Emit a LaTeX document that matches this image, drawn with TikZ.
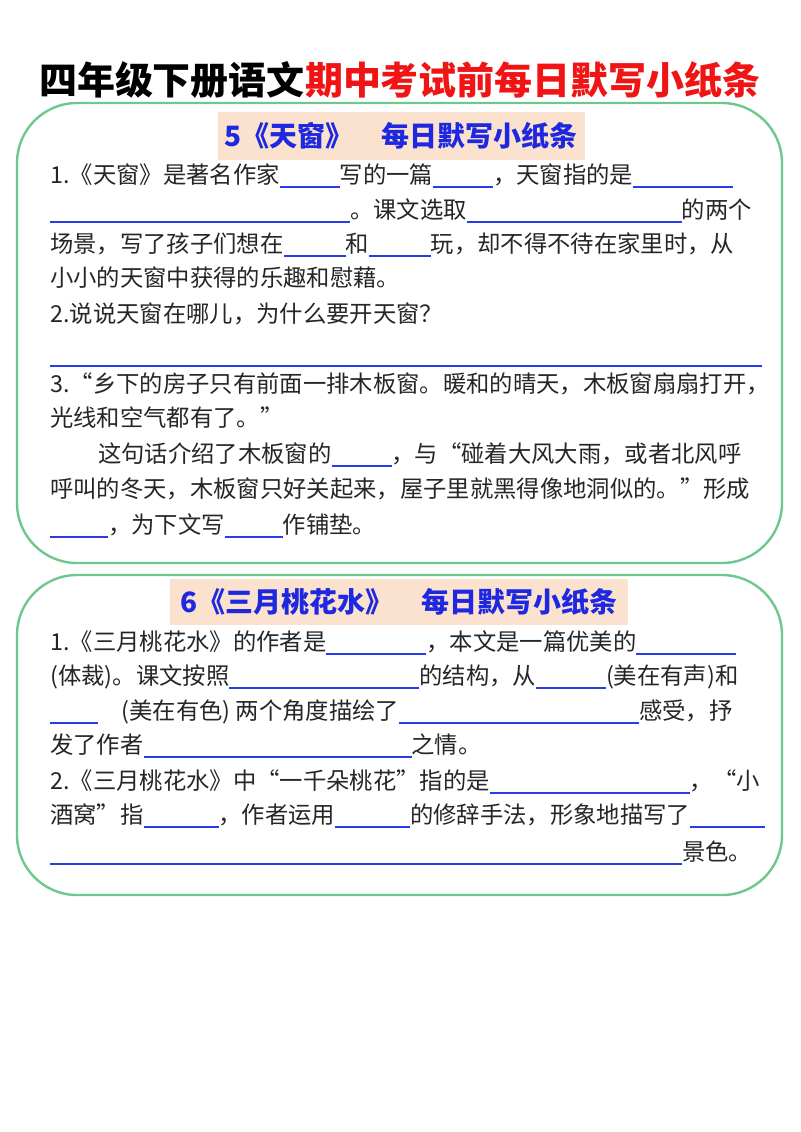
\documentclass[tikz,border=0pt]{standalone}
\usepackage{fontspec}
\setmainfont{Noto Sans CJK SC}
\usetikzlibrary{positioning}
\newdimen\px \px=0.75pt
\definecolor{boxgreen}{RGB}{110,200,140}
\definecolor{headfill}{RGB}{250,226,206}
\definecolor{headblue}{RGB}{30,40,225}
\definecolor{blankblue}{RGB}{40,60,235}
\definecolor{titlered}{RGB}{240,20,20}
\newcommand\blank[1]{\textcolor{blankblue}{\rule[-4pt]{#1\px}{1.5pt}}}
\begin{document}
\begin{tikzpicture}[x=0.75pt,y=-0.75pt]
    \tikzstyle{card} = [draw=boxgreen, line width=1.8pt, rounded corners=45pt]
    \tikzstyle{head} = [fill=headfill, text=headblue, font=\fontsize{21}{21}\selectfont\bfseries, inner sep=0pt]
    \tikzstyle{line} = [anchor=base west, inner sep=0pt, text=black!85, font=\fontsize{17.5}{17.5}\selectfont]

    \useasboundingbox (0,0) rectangle (800,1132);
    \fill[white] (0,0) rectangle (800,1132);

    \node (title) at (400,80) {\fontsize{28.5}{28.5}\selectfont\bfseries 四年级下册语文\textcolor{titlered}{期中考试前每日默写小纸条}};

    % first card
    \draw[card] (17,103) rectangle (782,563);
    \node (headA) [head, minimum width=367\px, minimum height=48\px] at (401,136) {5《天窗》\quad 每日默写小纸条};
    \node (a1) [line] at (50,183) {1.《天窗》是著名作家\blank{60}写的一篇\blank{60}，天窗指的是\blank{100}};
    \node (a2) [line] at (50,218) {\blank{300}。课文选取\blank{215}的两个};
    \node (a3) [line] at (50,252) {场景，写了孩子们想在\blank{62}和\blank{62}玩，却不得不待在家里时，从};
    \node (a4) [line] at (50,286) {小小的天窗中获得的乐趣和慰藉。};
    \node (a5) [line] at (50,322) {2.说说天窗在哪儿，为什么要开天窗？};
    \node (a6) [line] at (50,362) {\blank{712}};
    \node (a7) [line] at (50,392) {3.“乡下的房子只有前面一排木板窗。暖和的晴天，木板窗扇扇打开，};
    \node (a8) [line] at (50,426) {光线和空气都有了。”};
    \node (a9) [line] at (98,462) {这句话介绍了木板窗的\blank{60}，与“碰着大风大雨，或者北风呼};
    \node (a10) [line] at (50,497) {呼叫的冬天，木板窗只好关起来，屋子里就黑得像地洞似的。”形成};
    \node (a11) [line] at (50,533) {\blank{58}，为下文写\blank{58}作铺垫。};

    % second card
    \draw[card] (17,575) rectangle (782,895);
    \node (headB) [head, minimum width=458\px, minimum height=46\px] at (399,602) {6《三月桃花水》\quad 每日默写小纸条};
    \node (b1) [line] at (50,650) {1.《三月桃花水》的作者是\blank{100}，本文是一篇优美的\blank{100}};
    \node (b2) [line] at (50,684) {(体裁)。课文按照\blank{190}的结构，从\blank{70}(美在有声)和};
    \node (b3) [line] at (50,719) {\blank{48}\quad (美在有色) 两个角度描绘了\blank{240}感受，抒};
    \node (b4) [line] at (50,753) {发了作者\blank{268}之情。};
    \node (b5) [line] at (50,789) {2.《三月桃花水》中“一千朵桃花”指的是\blank{200}，“小};
    \node (b6) [line] at (50,823) {酒窝”指\blank{75}，作者运用\blank{75}的修辞手法，形象地描写了\blank{75}};
    \node (b7) [line] at (50,860) {\blank{632}景色。};
\end{tikzpicture}
\end{document}
